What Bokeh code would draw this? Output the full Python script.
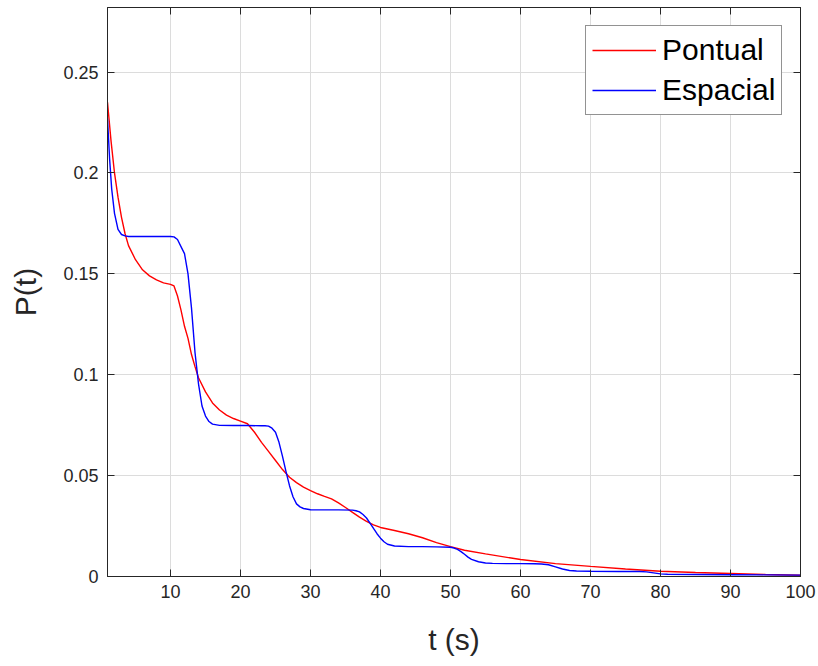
from bokeh.plotting import figure
from bokeh.models import LinearAxis, Legend, LegendItem, FixedTicker, NumeralTickFormatter, Range1d
from bokeh.embed import file_html
from bokeh.resources import INLINE

# Pontual (red)
t_pontual = [1, 1.5, 2, 2.5, 3, 3.5, 4, 5, 6, 7, 8, 9, 10, 10.5, 11, 11.5, 12, 12.5, 13, 13.5,
             14, 15, 16, 17, 18, 19, 20, 21, 22, 23, 24, 25, 26, 27, 28, 29, 30, 31, 32, 33,
             34, 35, 36, 37, 38, 39, 40, 42, 44, 46, 48, 50, 52, 55, 60, 65, 70, 75, 80, 85,
             90, 95, 100]
p_pontual = [0.235, 0.216, 0.200, 0.188, 0.178, 0.170, 0.164, 0.157, 0.152, 0.149, 0.147, 0.1455,
             0.1448, 0.1440, 0.139, 0.132, 0.124, 0.118, 0.110, 0.104,
             0.0985, 0.0915, 0.0860, 0.0825, 0.0800, 0.0783, 0.0770, 0.0757, 0.0715, 0.0665,
             0.0620, 0.0575, 0.0530, 0.0492, 0.0465, 0.0443, 0.0426, 0.0410, 0.0397, 0.0385,
             0.0365, 0.0342, 0.0318, 0.0294, 0.0273, 0.0256, 0.0243, 0.0228, 0.0212, 0.0192,
             0.0168, 0.0148, 0.0130, 0.0112, 0.0084, 0.0064, 0.0050, 0.0037, 0.0026, 0.0020,
             0.0015, 0.0010, 0.0006]

# Espacial (blue)
t_espacial = [1, 1.3, 1.6, 2, 2.5, 3, 3.5, 4, 6, 8, 10, 10.5, 11, 11.5, 12, 12.5, 13, 13.5, 14,
              14.5, 15, 15.5, 16, 17, 19, 21, 23, 23.5, 24, 24.5, 25, 25.5, 26, 26.5, 27, 27.5,
              28, 28.5, 29, 30, 32, 34, 36, 36.5, 37, 37.5, 38, 38.5, 39, 39.5, 40, 40.5, 41,
              42, 44, 46, 48, 50, 50.5, 51, 51.5, 52, 52.5, 53, 54, 55, 56, 58, 60, 62, 63, 64,
              65, 66, 67, 68, 70, 74, 77, 78, 79, 80, 81, 85, 90, 95, 100]
p_espacial = [0.227, 0.207, 0.192, 0.180, 0.172, 0.1695, 0.1688, 0.1685, 0.1685, 0.1685, 0.1685,
              0.1683, 0.1670, 0.1635, 0.160, 0.150, 0.133, 0.111, 0.0955,
              0.0845, 0.0795, 0.0768, 0.0755, 0.0749, 0.0748, 0.0748, 0.0747, 0.0747, 0.0745,
              0.0735, 0.0715, 0.0665, 0.0595, 0.0520, 0.0450, 0.0395,
              0.0360, 0.0345, 0.0337, 0.0331, 0.0330, 0.0330, 0.0329, 0.0326, 0.0320, 0.0307,
              0.0290, 0.0265, 0.0238, 0.0212, 0.0190, 0.0172, 0.0160,
              0.0151, 0.0148, 0.0148, 0.0147, 0.0145, 0.0141, 0.0134, 0.0123, 0.0110, 0.0096,
              0.0085, 0.0073, 0.0067, 0.0065, 0.0064, 0.0064, 0.0063, 0.0062, 0.0058,
              0.0048, 0.0037, 0.0030, 0.0027, 0.0026, 0.0025, 0.0025, 0.0023, 0.0018, 0.0013,
              0.0011, 0.0010, 0.0009, 0.0008, 0.0007]

x_ticks = [10, 20, 30, 40, 50, 60, 70, 80, 90, 100]
y_ticks = [0, 0.05, 0.1, 0.15, 0.2, 0.25]
series_names = ["Pontual", "Espacial"]

FONT = "Liberation Sans"
AX = "#262626"

p = figure(output_backend="svg", toolbar_location=None,
           frame_width=693, frame_height=569,
           x_range=Range1d(1, 100), y_range=Range1d(0, 0.282),
           min_border_left=107, min_border_right=18, min_border_top=7, min_border_bottom=10,
           x_axis_label="t (s)", y_axis_label="P(t)")
p.background_fill_color = "white"
p.border_fill_color = "white"
p.outline_line_color = AX
p.outline_line_width = 1

for ax in (p.xaxis[0], p.yaxis[0]):
    ax.axis_line_color = AX
    ax.major_tick_line_color = AX
    ax.major_tick_in = 7
    ax.major_tick_out = 0
    ax.minor_tick_line_color = None
    ax.major_label_text_font = FONT
    ax.major_label_text_font_size = "18px"
    ax.major_label_text_color = AX
    ax.axis_label_text_font = FONT
    ax.axis_label_text_font_size = "30px"
    ax.axis_label_text_font_style = "normal"
    ax.axis_label_text_color = AX

p.xaxis[0].ticker = FixedTicker(ticks=x_ticks)
p.yaxis[0].ticker = FixedTicker(ticks=y_ticks)
p.yaxis[0].formatter = NumeralTickFormatter(format="0.[00]")
p.xaxis[0].major_label_standoff = 8
p.yaxis[0].major_label_standoff = 9
p.xaxis[0].axis_label_standoff = 22
p.yaxis[0].axis_label_standoff = 18

for loc, ticks in (("above", x_ticks), ("right", y_ticks)):
    a = LinearAxis(ticker=FixedTicker(ticks=ticks))
    a.axis_line_color = AX
    a.major_tick_line_color = AX
    a.major_tick_in = 7
    a.major_tick_out = 0
    a.minor_tick_line_color = None
    a.major_label_text_font_size = "0px"
    a.major_label_standoff = 0
    a.major_label_text_color = None
    p.add_layout(a, loc)

p.xgrid.ticker = FixedTicker(ticks=x_ticks)
p.ygrid.ticker = FixedTicker(ticks=y_ticks)
p.grid.grid_line_color = "#dcdcdc"
p.grid.grid_line_width = 1

r1 = p.line(t_pontual, p_pontual, line_color="#ff0000", line_width=1.4)
r2 = p.line(t_espacial, p_espacial, line_color="#0000ff", line_width=1.4)

legend = Legend(items=[LegendItem(label=series_names[0], renderers=[r1]),
                       LegendItem(label=series_names[1], renderers=[r2])],
                location=(478, 461))
legend.label_text_font = FONT
legend.label_text_font_size = "30px"
legend.label_text_color = "black"
legend.glyph_width = 64
legend.glyph_height = 36
legend.label_height = 36
legend.label_width = 113
legend.label_standoff = 6
legend.spacing = 4
legend.padding = 6
legend.margin = 0
legend.border_line_color = AX
legend.border_line_width = 1
legend.background_fill_color = "white"
legend.background_fill_alpha = 1
p.add_layout(legend, "center")

open("out.html", "w").write(file_html(p, INLINE))
